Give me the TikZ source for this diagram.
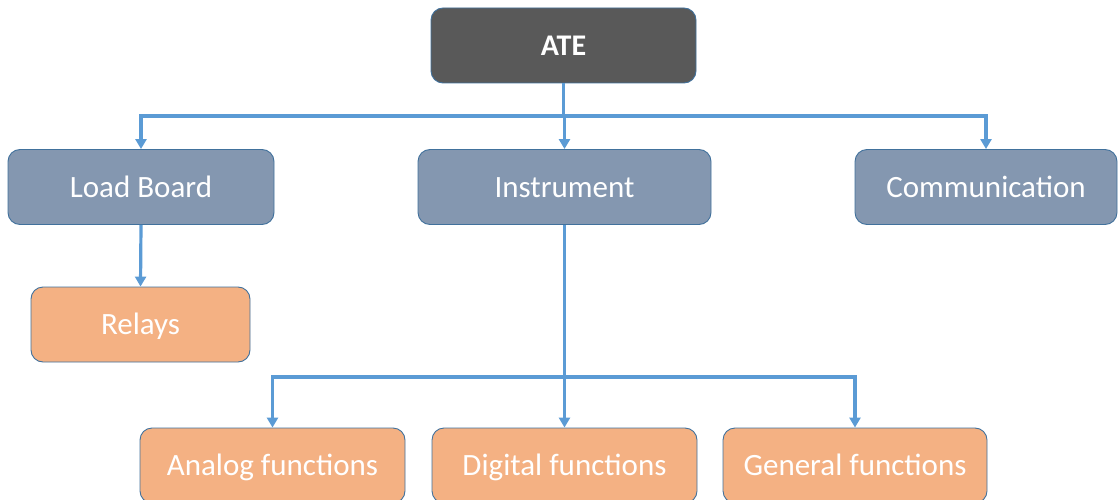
\documentclass[tikz,border=0pt]{standalone}
\usepackage{fontspec}
\setmainfont{Carlito}
\usetikzlibrary{arrows.meta}
\definecolor{topfill}{HTML}{595959}
\definecolor{midfill}{HTML}{8497B0}
\definecolor{leaffill}{HTML}{F4B183}
\definecolor{edgeblue}{HTML}{41719C}
\definecolor{linkblue}{HTML}{5B9BD5}
\tikzset{
  box/.style={draw=edgeblue, line width=0.9pt, rounded corners=12pt,
    minimum height=75pt, text=white, inner sep=0pt,
    text height=24pt, text depth=4pt,
    font=\fontsize{31}{36}\selectfont},
  topbox/.style={box, fill=topfill, minimum width=265pt,
    font=\fontsize{30}{36}\selectfont\bfseries},
  midbox/.style={box, fill=midfill},
  leafbox/.style={box, fill=leaffill},
  conn/.style={draw=linkblue, line width=3.2pt, line join=miter},
  arr/.style={conn, -{Triangle[length=10pt,width=11pt]}},
}
\begin{document}
\begin{tikzpicture}[x=1pt, y=-1pt]
\useasboundingbox (0,0) rectangle (1118,500);

% top level
\node[topbox] (ate) at (563.5,45.5) {ATE};

% second level
\node[midbox, minimum width=266pt] (lb)   at (141,187)   {Load Board};
\node[midbox, minimum width=293pt] (inst) at (564.5,187) {Instrument};
\node[midbox, minimum width=262pt] (comm) at (986,187)   {Communication};

% children of the load board
\node[leafbox, minimum width=219pt] (rel) at (140.5,324.5) {Relays};

% children of the instrument
\node[leafbox, minimum width=265pt] (ana) at (272.5,465.5) {Analog functions};
\node[leafbox, minimum width=265pt] (dig) at (564.5,465.5) {Digital functions};
\node[leafbox, minimum width=264pt] (gen) at (855,465.5)   {General functions};

% bus from ATE to the second level
\coordinate (busA) at (564.5,116);
\draw[conn] (ate.south) -- (ate.south |- busA);
\draw[arr] (busA) -| (lb.north);
\draw[arr] (busA) -- (inst.north);
\draw[arr] (busA) -| (comm.north);

% load board to relays
\draw[arr] (lb.south) -- (rel.north);

% bus from instrument to the function blocks
\coordinate (busB) at (564.5,377);
\draw[conn] (inst.south) -- (busB);
\draw[arr] (busB) -| (ana.north);
\draw[arr] (busB) -- (dig.north);
\draw[arr] (busB) -| (gen.north);
\end{tikzpicture}
\end{document}
